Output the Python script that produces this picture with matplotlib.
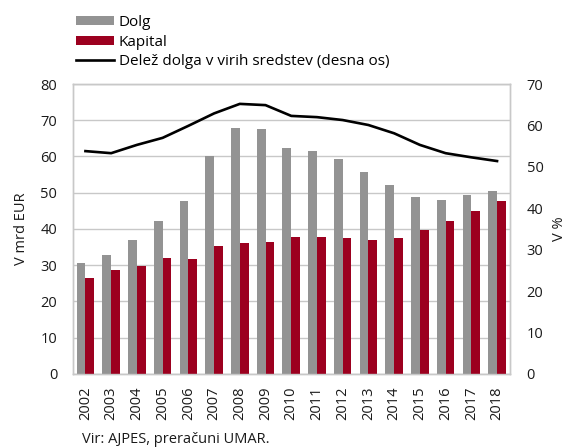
import matplotlib
matplotlib.use("Agg")

import matplotlib.pyplot as plt
import numpy as np

plt.rcParams["font.family"] = ["Open Sans", "DejaVu Sans"]

# ── podatki ──
years = [2002, 2003, 2004, 2005, 2006, 2007, 2008, 2009, 2010,
         2011, 2012, 2013, 2014, 2015, 2016, 2017, 2018]
dolg = [30.7, 32.7, 36.9, 42.3, 47.6, 60.0, 67.9, 67.6, 62.3,
        61.5, 59.2, 55.8, 52.2, 48.8, 48.0, 49.4, 50.6]
kapital = [26.5, 28.7, 29.9, 31.9, 31.6, 35.3, 36.2, 36.5, 37.8,
           37.7, 37.4, 37.1, 37.6, 39.6, 42.2, 44.9, 47.8]
delez = [53.8, 53.3, 55.3, 57.0, 59.9, 62.9, 65.2, 64.9, 62.3,
         62.0, 61.3, 60.1, 58.1, 55.3, 53.3, 52.3, 51.4]

COLOR_DOLG = "#939393"
COLOR_KAP = "#9c001f"
COLOR_GRID = "#c8c8c8"
COLOR_TEXT = "#1a1a1a"

fig = plt.figure(figsize=(5.67, 4.48), dpi=100)
ax = fig.add_axes([0.128, 0.1652, 0.7713, 0.6473])
ax2 = ax.twinx()

x = np.arange(len(years))
w = 0.34
ax.bar(x - w / 2, dolg, width=w, color=COLOR_DOLG, label="Dolg", zorder=3)
ax.bar(x + w / 2, kapital, width=w, color=COLOR_KAP, label="Kapital", zorder=3)
line, = ax2.plot(x, delez, color="black", linewidth=1.9,
                 label="Delež dolga v virih sredstev (desna os)")

ax.set_xlim(-0.5, len(years) - 0.5)
ax.set_ylim(0, 80)
ax.set_yticks(range(0, 81, 10))
ax2.set_ylim(0, 70)
ax2.set_yticks(range(0, 71, 10))

ax.set_xticks(x)
ax.set_xticklabels([str(y) for y in years], rotation=90, fontsize=10.5,
                   color=COLOR_TEXT)
ax.grid(axis="y", color=COLOR_GRID, linewidth=1, zorder=0)
ax.set_axisbelow(True)

for a in (ax, ax2):
    for s in a.spines.values():
        s.set_color(COLOR_GRID)
        s.set_linewidth(1)
    a.tick_params(length=0, labelsize=10.5, colors=COLOR_TEXT)
ax.tick_params(axis="y", pad=11)
ax.tick_params(axis="x", pad=9)
ax2.tick_params(axis="y", pad=12)

ax.set_ylabel("V mrd EUR", fontsize=10.5, color=COLOR_TEXT, labelpad=8)
ax2.set_ylabel("V %", fontsize=10.5, color=COLOR_TEXT, labelpad=6)

handles = [ax.patches[0], ax.patches[len(years)], line]
labels = ["Dolg", "Kapital", "Delež dolga v virih sredstev (desna os)"]
fig.legend(handles, labels, loc="upper left", bbox_to_anchor=(0.115, 0.99),
           frameon=False, fontsize=11, handlelength=2.5, handleheight=0.5,
           handletextpad=0.3, labelspacing=0.3, borderaxespad=0.3)

fig.text(0.145, 0.003, "Vir: AJPES, preračuni UMAR.", fontsize=10.5,
         color=COLOR_TEXT, ha="left", va="bottom")

fig.savefig("out.png", dpi=100)
